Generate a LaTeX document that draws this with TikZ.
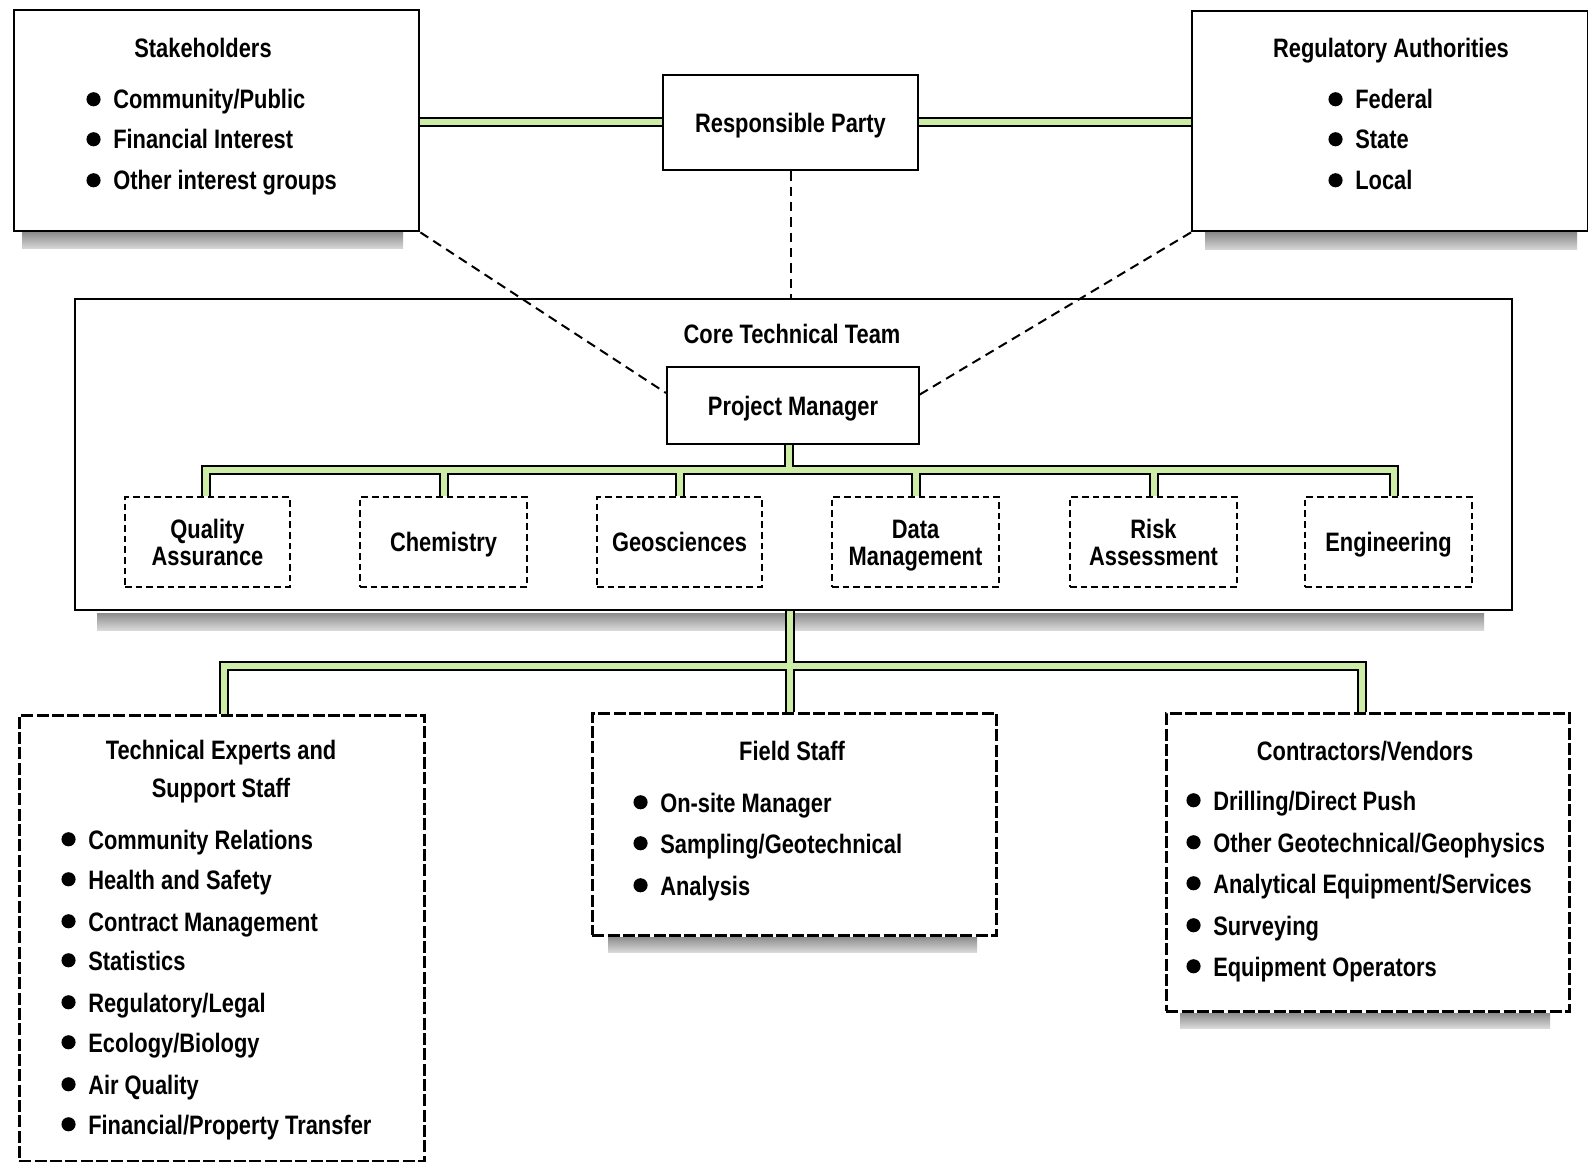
\documentclass[tikz,border=0pt]{standalone}
\usepackage{fontspec}
\setmainfont{Liberation Sans Bold}[FakeStretch=0.82]
\usetikzlibrary{calc}
\definecolor{pipegreen}{RGB}{205,236,165}
\newcommand\blt{\llap{\tikz[baseline=0pt]\fill[black] (0,7.3pt) circle (5.3pt);\hspace{9.5pt}}}
\tikzset{
  box/.style={draw=black, line width=1.8pt, fill=white, inner sep=0pt, anchor=north west},
  capc/.style={text height=14.6pt, text depth=0pt},
  twoline/.style={text height=35.1pt, text depth=0pt},
  subbox/.style={draw=black, line width=1.1pt, dash pattern=on 5pt off 3pt, fill=white, inner sep=0pt, align=center, capc, font=\fontsize{20}{20.5}\selectfont},
  lowbox/.style={draw=black, line width=2pt, dash pattern=on 9pt off 2.5pt, fill=white, inner sep=0pt, anchor=north west},
  txt/.style={inner sep=0pt, anchor=base west, font=\fontsize{20}{24}\selectfont},
  ttl/.style={inner sep=0pt, anchor=base, font=\fontsize{20}{24}\selectfont},
  pipeout/.style={draw=black, line width=7.5pt, line join=miter},
  pipein/.style={draw=pipegreen, line width=4.5pt, line join=miter},
  dline/.style={draw=black, line width=1.5pt, dash pattern=on 7pt off 4.5pt},
  shadowbar/.style={top color=black!45, bottom color=black!15, draw=none},
}
\begin{document}
\begin{tikzpicture}[x=0.75pt, y=-0.75pt]
\useasboundingbox (0,0) rectangle (1588,1162);
\fill[white] (0,0) rectangle (1588,1162);

% shadows
\fill[shadowbar] (22,232) rectangle (403,249);
\fill[shadowbar] (1205,233) rectangle (1577,250);
\fill[shadowbar] (97,613) rectangle (1484,630);
\fill[shadowbar] (608,937) rectangle (977,952);
\fill[shadowbar] (1180,1013) rectangle (1550,1028);

% top boxes
\node[box, minimum width=405*0.75pt, minimum height=221*0.75pt] (stake) at (13,9) {};
\node[box, minimum width=396*0.75pt, minimum height=220*0.75pt] (reg) at (1191,10) {};
\node[box, capc, minimum width=255*0.75pt, minimum height=95*0.75pt, anchor=center, font=\fontsize{20}{24}\selectfont] (rp) at (790.5,122.5) {Responsible Party};

% core team
\node[box, minimum width=1437*0.75pt, minimum height=311*0.75pt] (core) at (74,298) {};
\node[ttl] (coret) at (792,344) {Core Technical Team};
\node[box, capc, line width=1.5pt, minimum width=252*0.75pt, minimum height=76*0.75pt, anchor=center, font=\fontsize{20}{24}\selectfont] (pm) at (793,405.5) {Project Manager};

% sub boxes
\node[subbox, twoline, minimum width=165*0.75pt, minimum height=90*0.75pt] (qa) at (207.5,542) {Quality\\Assurance};
\node[subbox, minimum width=167*0.75pt, minimum height=90*0.75pt] (chem) at (443.5,542) {Chemistry};
\node[subbox, minimum width=165*0.75pt, minimum height=90*0.75pt] (geo) at (679.5,542) {Geosciences};
\node[subbox, twoline, minimum width=167*0.75pt, minimum height=90*0.75pt] (dm) at (915.5,542) {Data\\Management};
\node[subbox, twoline, minimum width=167*0.75pt, minimum height=90*0.75pt] (ra) at (1153.5,542) {Risk\\Assessment};
\node[subbox, minimum width=167*0.75pt, minimum height=90*0.75pt] (eng) at (1388.5,542) {Engineering};

% lower boxes
\node[lowbox, minimum width=405*0.75pt, minimum height=446*0.75pt] (tech) at (18,714) {};
\node[lowbox, minimum width=404*0.75pt, minimum height=222*0.75pt] (field) at (591,712) {};
\node[lowbox, minimum width=403*0.75pt, minimum height=298*0.75pt] (contr) at (1165,712) {};

% pipes
\coordinate (busL) at (206,470);
\coordinate (busR) at (1394,470);
\coordinate (low) at (790,666);
\foreach \s in {pipeout,pipein}{
  \path[\s] (stake.east |- rp.west) -- (rp.west);
  \path[\s] (rp.east) -- (reg.west |- rp.east);
  \path[\s] (pm.south -| 789,0) -- (789,470);
  \path[\s] (qa.north -| busL) -- (busL) -- (busR) -- (eng.north -| busR);
  \path[\s] (chem.north) -- (chem.north |- busL);
  \path[\s] (geo.north) -- (geo.north |- busL);
  \path[\s] (dm.north) -- (dm.north |- busL);
  \path[\s] (ra.north) -- (ra.north |- busL);
  \path[\s] (core.south -| low) -- (low);
  \path[\s] (tech.north -| 224,0) -- (224,666) -- (1362,666) -- (contr.north -| 1362,0);
  \path[\s] (low) -- (field.north -| low);
}

% dashed links
\coordinate (pmL) at (666,393);
\coordinate (pmR) at (919,395);
\draw[dline] (stake.south east) -- (pmL);
\draw[dline] (reg.south west) -- (pmR);
\draw[dline] (rp.south) -- (rp.south |- core.north);

% stakeholders text
\node[ttl] (staket) at (203,58) {Stakeholders};
\node[txt] (s1) at (113,109) {\blt Community/Public};
\node[txt] (s2) at (113,149) {\blt Financial Interest};
\node[txt] (s3) at (113,190) {\blt Other interest groups};

% regulatory text
\node[ttl] (regt) at (1391,58) {Regulatory Authorities};
\node[txt] (r1) at (1355,109) {\blt Federal};
\node[txt] (r2) at (1355,149) {\blt State};
\node[txt] (r3) at (1355,190) {\blt Local};

% technical experts text
\node[ttl] (techt1) at (221,759) {Technical Experts and};
\node[ttl] (techt2) at (221,797) {Support Staff};
\node[txt] (t1) at (88,849) {\blt Community Relations};
\node[txt] (t2) at (88,889) {\blt Health and Safety};
\node[txt] (t3) at (88,931) {\blt Contract Management};
\node[txt] (t4) at (88,970) {\blt Statistics};
\node[txt] (t5) at (88,1012) {\blt Regulatory/Legal};
\node[txt] (t6) at (88,1052) {\blt Ecology/Biology};
\node[txt] (t7) at (88,1094) {\blt Air Quality};
\node[txt] (t8) at (88,1134) {\blt Financial/Property Transfer};

% field staff text
\node[ttl] (fieldt) at (792,760) {Field Staff};
\node[txt] (f1) at (660,812) {\blt On-site Manager};
\node[txt] (f2) at (660,853) {\blt Sampling/Geotechnical};
\node[txt] (f3) at (660,895) {\blt Analysis};

% contractors text
\node[ttl] (contrt) at (1365,760) {Contractors/Vendors};
\node[txt] (c1) at (1213,810) {\blt Drilling/Direct Push};
\node[txt] (c2) at (1213,852) {\blt Other Geotechnical/Geophysics};
\node[txt] (c3) at (1213,893) {\blt Analytical Equipment/Services};
\node[txt] (c4) at (1213,935) {\blt Surveying};
\node[txt] (c5) at (1213,976) {\blt Equipment Operators};
\end{tikzpicture}
\end{document}
